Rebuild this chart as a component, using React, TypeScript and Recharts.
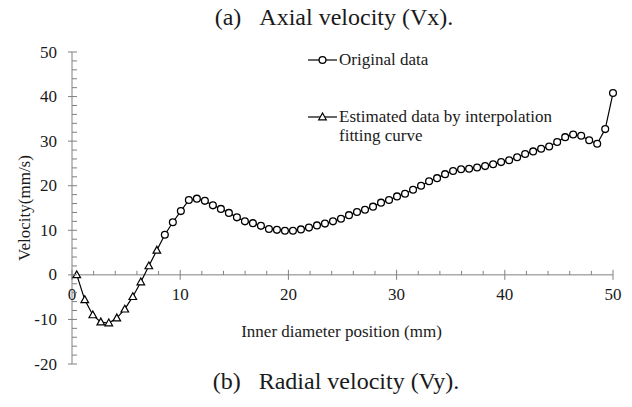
import React from "react";
import { LineChart, Line, XAxis, YAxis, ReferenceLine, ReferenceDot } from "recharts";

// inner diameter position (mm)
const positions = [
  0.44, 1.18, 1.92, 2.66, 3.4, 4.14, 4.88, 5.62, 6.36, 7.1, 7.84, 8.58, 9.32, 10.06,
  10.8, 11.54, 12.28, 13.02, 13.76, 14.5, 15.24, 15.98, 16.72, 17.46, 18.2, 18.94,
  19.68, 20.42, 21.16, 21.9, 22.64, 23.38, 24.12, 24.86, 25.6, 26.34, 27.08, 27.82,
  28.56, 29.3, 30.04, 30.78, 31.52, 32.26, 33.0, 33.74, 34.48, 35.22, 35.96, 36.7,
  37.44, 38.18, 38.92, 39.66, 40.4, 41.14, 41.88, 42.62, 43.36, 44.1, 44.84, 45.58,
  46.32, 47.06, 47.8, 48.54, 49.28, 50.0,
];

// axial velocity (mm/s)
const velocity = [
  0.0, -5.6, -9.0, -10.6, -10.8, -9.7, -7.7, -4.9, -1.6, 2.0, 5.5, 9.0, 11.8, 14.3,
  16.8, 17.1, 16.6, 15.6, 14.8, 13.9, 12.9, 12.0, 11.6, 11.0, 10.3, 10.1, 9.9, 9.9,
  10.2, 10.6, 11.1, 11.5, 12.0, 12.6, 13.4, 14.1, 14.6, 15.3, 16.2, 16.8, 17.6, 18.2,
  19.1, 20.0, 21.0, 21.7, 22.6, 23.3, 23.7, 23.8, 24.1, 24.4, 24.8, 25.3, 25.7, 26.4,
  27.1, 27.7, 28.3, 28.8, 29.8, 30.9, 31.5, 31.2, 30.2, 29.4, 32.7, 40.8,
];

// the first points near the wall come from the interpolation fit
const estimatedCount = 11;

const xTicks = [0, 2, 4, 6, 8, 10, 12, 14, 16, 18, 20, 22, 24, 26, 28, 30, 32, 34, 36, 38, 40, 42, 44, 46, 48, 50];
const yTicks = [-20, -18, -16, -14, -12, -10, -8, -6, -4, -2, 0, 2, 4, 6, 8, 10, 12, 14, 16, 18, 20, 22, 24, 26, 28, 30, 32, 34, 36, 38, 40, 42, 44, 46, 48, 50];

const topTitle = "(a)\u00a0\u00a0\u00a0Axial velocity (Vx).";
const bottomTitle = "(b)\u00a0\u00a0\u00a0Radial velocity (Vy).";
const xTitle = "Inner diameter position (mm)";
const yTitle = "Velocity(mm/s)";
const legendOriginal = "Original data";
const legendEstimated = ["Estimated data by interpolation", "fitting curve"];

const data = positions.map((x, i) => ({
  x,
  v: velocity[i],
  estimated: i < estimatedCount,
}));

const font = "'Liberation Serif', 'Times New Roman', serif";
const axisColor = "#808080";
const textColor = "#1a1a1a";

const Circle = ({ cx, cy }: { cx: number; cy: number }) => (
  <circle cx={cx} cy={cy} r={3.4} fill="#fff" stroke="#000" strokeWidth={1.3} />
);

const Triangle = ({ cx, cy }: { cx: number; cy: number }) => (
  <polygon
    points={`${cx},${cy - 4} ${cx - 3.8},${cy + 2.8} ${cx + 3.8},${cy + 2.8}`}
    fill="#fff"
    stroke="#000"
    strokeWidth={1.2}
  />
);

const renderDot = (props: any) => {
  const { cx, cy, index, payload } = props;
  return (
    <g key={`dot-${index}`}>
      {payload.estimated ? <Triangle cx={cx} cy={cy} /> : <Circle cx={cx} cy={cy} />}
    </g>
  );
};

const YTick = (props: any) => {
  const { x, y, payload } = props;
  const major = payload.value % 10 === 0;
  return (
    <g>
      <line x1={major ? x - 4 : x} x2={x + 5} y1={y} y2={y} stroke={axisColor} />
      {major && (
        <text x={x - 15} y={y + 5.5} textAnchor="end" fontFamily={font} fontSize={17} fill={textColor}>
          {payload.value}
        </text>
      )}
    </g>
  );
};

const XTick = ({ cx, cy, value }: { cx: number; cy: number; value: number }) => {
  const major = value % 10 === 0;
  return (
    <g>
      <line x1={cx} x2={cx} y1={cy - (major ? 5 : 4)} y2={major ? cy + 5 : cy} stroke={axisColor} />
      {major && (
        <text x={cx} y={cy + 25.5} textAnchor="middle" fontFamily={font} fontSize={17} fill={textColor}>
          {value}
        </text>
      )}
    </g>
  );
};

const YTitle = (props: any) => {
  const { viewBox } = props;
  const cy = viewBox.y + viewBox.height / 2;
  return (
    <text
      x={30}
      y={cy}
      transform={`rotate(-90, 30, ${cy})`}
      textAnchor="middle"
      fontFamily={font}
      fontSize={17}
      fill={textColor}
    >
      {yTitle}
    </text>
  );
};

export default function App() {
  return (
    <div style={{ position: "absolute", left: 0, top: 0, width: 632, height: 407, background: "#fff" }}>
      <LineChart width={632} height={407} data={data} margin={{ top: 52, right: 19, bottom: 43, left: 0 }}>
        <XAxis dataKey="x" type="number" domain={[0, 50]} hide />
        <YAxis
          type="number"
          domain={[-20, 50]}
          ticks={yTicks}
          interval={0}
          width={72}
          tickSize={0}
          tickMargin={0}
          tickLine={false}
          axisLine={{ stroke: axisColor }}
          tick={YTick}
          label={<YTitle />}
        />
        <ReferenceLine y={0} stroke={axisColor} />
        {xTicks.map((v) => (
          <ReferenceDot
            key={`xt-${v}`}
            x={v}
            y={0}
            r={0}
            shape={(p: any) => <XTick cx={p.cx} cy={p.cy} value={v} />}
          />
        ))}
        <Line
          type="linear"
          dataKey="v"
          stroke="#000"
          strokeWidth={1.2}
          dot={renderDot}
          isAnimationActive={false}
        />
      </LineChart>
      <svg width={632} height={407} style={{ position: "absolute", left: 0, top: 0, pointerEvents: "none" }}>
        <g fontFamily={font} fill={textColor}>
          <text x={334} y={25} textAnchor="middle" fontSize={24}>{topTitle}</text>
          <text x={336} y={389} textAnchor="middle" fontSize={24}>{bottomTitle}</text>
          <text x={341.5} y={337} textAnchor="middle" fontSize={17}>{xTitle}</text>
          <line x1={308} x2={337} y1={60} y2={60} stroke="#000" strokeWidth={1.2} />
          <Circle cx={322.5} cy={60} />
          <text x={339} y={65} fontSize={17}>{legendOriginal}</text>
          <line x1={308} x2={337} y1={117} y2={117} stroke="#000" strokeWidth={1.2} />
          <Triangle cx={322.5} cy={117} />
          <text x={339} y={122} fontSize={17}>{legendEstimated[0]}</text>
          <text x={339} y={141} fontSize={17}>{legendEstimated[1]}</text>
        </g>
      </svg>
    </div>
  );
}
